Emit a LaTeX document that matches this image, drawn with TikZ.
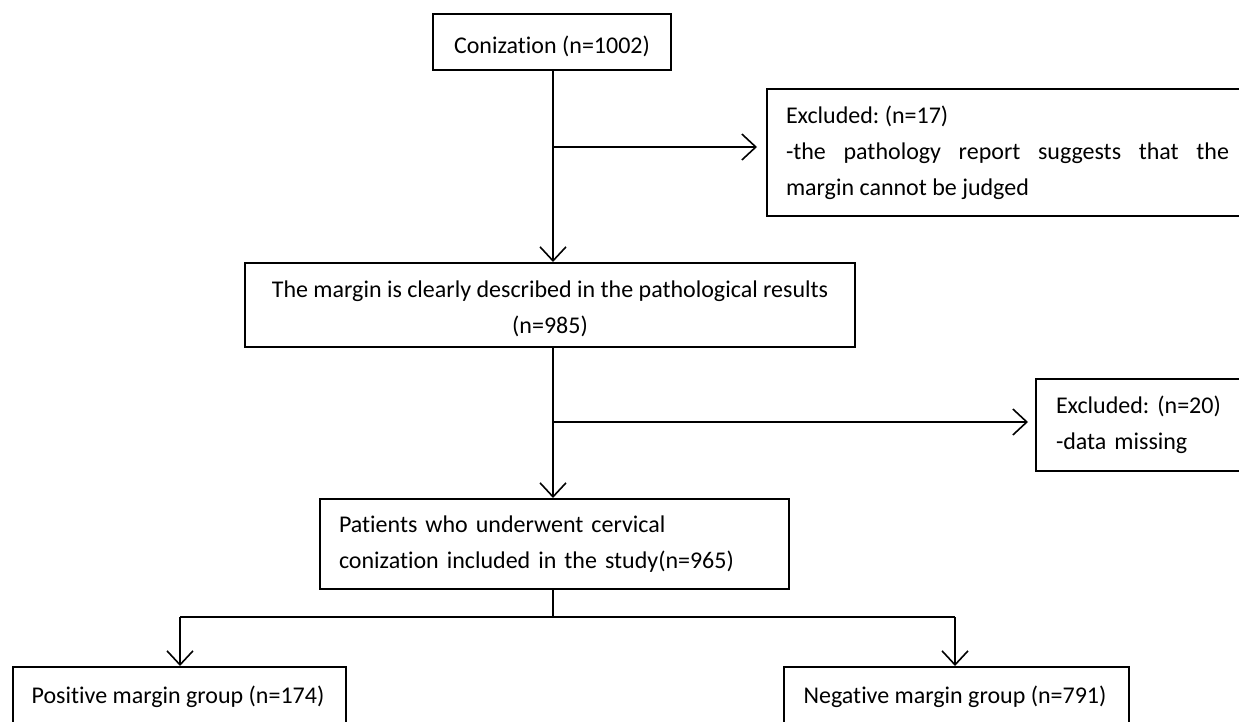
\documentclass[tikz,border=0pt]{standalone}
\usepackage{fontspec}
\setmainfont{Carlito}[Ligatures=NoCommon]
\usetikzlibrary{arrows.meta}
\frenchspacing
\tikzset{
  box/.style={draw, line width=2pt, inner sep=0pt, font=\fontsize{24}{36}\selectfont},
  conn/.style={line width=1.6pt},
  arr/.style={conn, -{Straight Barb[length=14pt, width=26pt, line width=1.6pt]}},
  lbl/.style={font=\fontsize{24}{28}\selectfont, inner sep=0pt},
}
\begin{document}
\begin{tikzpicture}[x=1pt, y=-1pt]
\useasboundingbox (0,0) rectangle (1239,722);
\clip (0,0) rectangle (1239,722);
\node[box, minimum width=238pt, minimum height=56pt] (b1) at (552,42) {\rule{0pt}{26pt}Conization (n=1002)};
\node[box, anchor=north west, minimum height=127pt, inner xsep=19pt, text width=443pt, align=justify] (ex1) at (766,88)
  {\frenchspacing Excluded: (n=17)\\ -the pathology report suggests that the\linebreak margin cannot be judged};
\node[box, minimum width=610pt, minimum height=84pt, align=center, font=\fontsize{24}{36}\selectfont] (b2) at (550,305)
  {\rule{0pt}{24pt}The margin is clearly described in the pathological results\\(n=985)};
\node[box, anchor=north west, minimum width=230pt, minimum height=92pt, inner xsep=20pt, align=left, text width=190pt] (ex2) at (1035,378)
  {\frenchspacing Excluded: (n=20)\\-data missing};
\node[box, anchor=north west, minimum width=469pt, minimum height=90pt, inner xsep=19pt, align=left, text width=431pt] (b3) at (319,498)
  {Patients who underwent cervical\\conization included in the study(n=965)};
\node[box, anchor=north west, minimum width=333pt, minimum height=62pt] (pos) at (12,666) {};
\node[lbl] (post) at (178,697) {Positive margin group (n=174)};
\node[box, anchor=north west, minimum width=345pt, minimum height=62pt] (neg) at (783,666) {};
\node[lbl] (negt) at (955,697) {Negative margin group (n=791)};

\coordinate (j1) at (553,147);
\coordinate (j2) at (553,422);
\coordinate (j3) at (553,617);
\coordinate (jl) at (180,617);
\coordinate (jr) at (955,617);

\draw[arr] (b1.south -| j1) -- (b2.north -| j1);
\draw[arr, shorten >=9pt] (j1) -- (j1 -| ex1.west);
\draw[arr] (b2.south -| j2) -- (b3.north -| j2);
\draw[arr, shorten >=7pt] (j2) -- (j2 -| ex2.west);
\draw[conn] (b3.south -| j3) -- (j3);
\draw[conn] (jl) -- (jr);
\draw[arr] (jl) -- (pos.north -| jl);
\draw[arr] (jr) -- (neg.north -| jr);
\end{tikzpicture}
\end{document}
